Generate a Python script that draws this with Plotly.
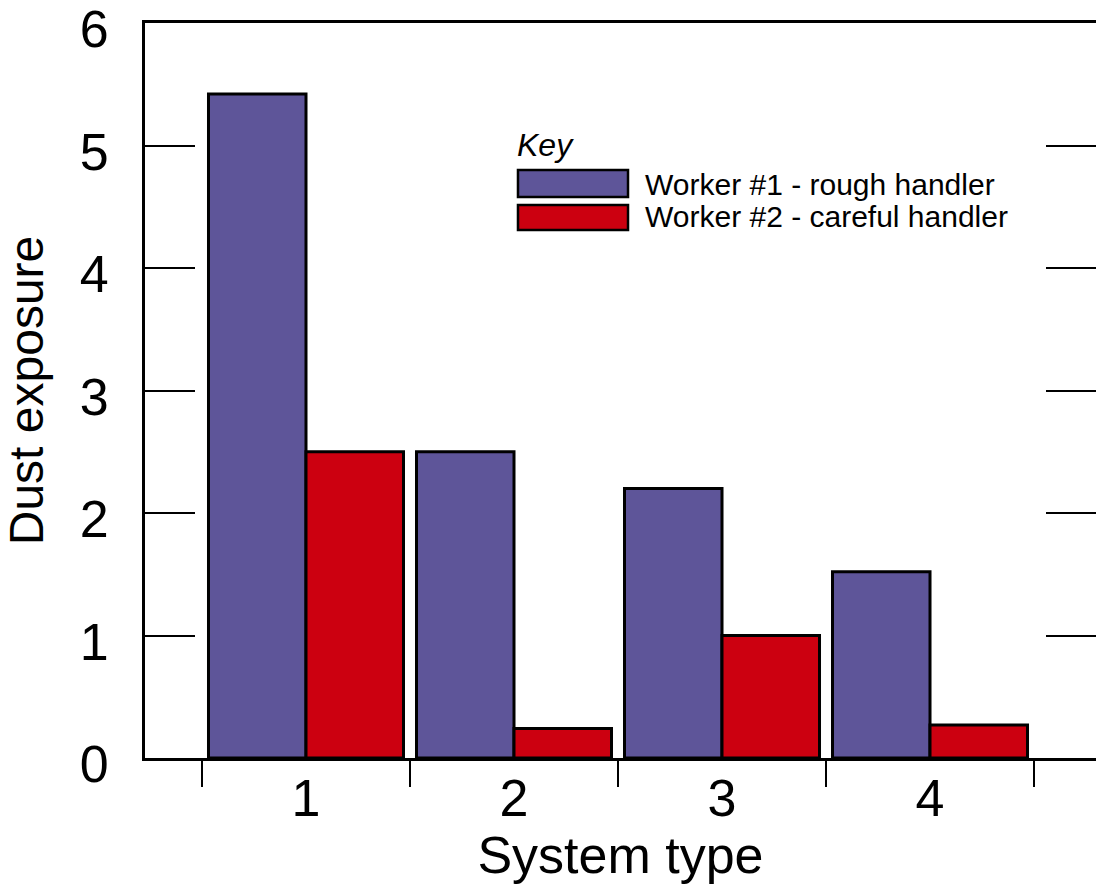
import plotly.graph_objects as go

systems = [1, 2, 3, 4]
worker1 = [5.42, 2.50, 2.20, 1.52]
worker2 = [2.50, 0.24, 1.00, 0.27]
series_names = ["Worker #1 - rough handler", "Worker #2 - careful handler"]
y_ticks = [0, 1, 2, 3, 4, 5, 6]
boundaries = [0.5, 1.5, 2.5, 3.5, 4.5]

PURPLE = "#5E5599"
RED = "#CC0010"
FONT = "Liberation Sans, Arial, sans-serif"
X_RANGE = [0.226, 4.798]
Y_RANGE = [0, 6]

fig = go.Figure()
fig.add_trace(go.Bar(x=systems, y=worker1, name=series_names[0],
                     marker=dict(color=PURPLE, line=dict(color="black", width=3)),
                     showlegend=False))
fig.add_trace(go.Bar(x=systems, y=worker2, name=series_names[1],
                     marker=dict(color=RED, line=dict(color="black", width=3)),
                     showlegend=False))
# invisible trace carrying the boundary ticks (x2) and right-side y ticks (y2)
fig.add_trace(go.Scatter(x=[systems[0]], y=[0], xaxis="x2", yaxis="y2", mode="markers",
                         marker=dict(opacity=0), showlegend=False, hoverinfo="skip"))

fig.update_layout(
    width=1096, height=884,
    margin=dict(l=145, r=0, t=23, b=126, autoexpand=False),
    paper_bgcolor="white", plot_bgcolor="white",
    barmode="group", bargap=0.0625, bargroupgap=0,
    font=dict(family=FONT, color="black"),
    xaxis=dict(
        range=X_RANGE, automargin=False,
        tickmode="array", tickvals=systems, ticktext=[str(s) for s in systems],
        ticks="outside", ticklen=6, tickcolor="rgba(0,0,0,0)",
        tickfont=dict(size=52), ticklabelstandoff=-13,
        showline=True, linecolor="black", linewidth=3, mirror=True,
        showgrid=False, zeroline=False,
        title=dict(text="System type", font=dict(size=52), standoff=27),
    ),
    xaxis2=dict(
        range=X_RANGE, overlaying="x", side="bottom", anchor="y", automargin=False,
        tickmode="array", tickvals=boundaries, ticks="outside",
        ticklen=28, tickwidth=1.5, tickcolor="black",
        showticklabels=False, showline=False, showgrid=False, zeroline=False,
    ),
    yaxis=dict(
        range=Y_RANGE, automargin=False, tickmode="array", tickvals=y_ticks,
        ticks="inside", ticklen=50, tickwidth=1.5, tickcolor="black",
        tickfont=dict(size=52), ticklabelstandoff=23, ticklabelshift=6,
        showline=True, linecolor="black", linewidth=3,
        showgrid=False, zeroline=False,
        title=dict(text="Dust exposure", font=dict(size=48), standoff=21),
    ),
    yaxis2=dict(
        range=Y_RANGE, overlaying="y", side="right", anchor="x", automargin=False,
        tickmode="array", tickvals=y_ticks,
        ticks="inside", ticklen=50, tickwidth=1.5, tickcolor="black",
        showticklabels=False, showline=False, showgrid=False, zeroline=False,
    ),
)

# Key (legend) drawn as shapes and text
key_x0, key_x1 = 0.3922, 0.5079
rows = [(0.7633, 0.8000, PURPLE, 0.7796), (0.7184, 0.7524, RED, 0.7361)]
for (y0, y1, col, ty), name in zip(rows, series_names):
    fig.add_shape(type="rect", xref="paper", yref="paper",
                  x0=key_x0, x1=key_x1, y0=y0, y1=y1,
                  fillcolor=col, line=dict(color="black", width=2.5))
    fig.add_annotation(xref="paper", yref="paper", x=0.5238, y=ty,
                       xanchor="left", yanchor="middle", showarrow=False,
                       text=name, font=dict(size=30, family=FONT, color="black"))
fig.add_annotation(xref="paper", yref="paper", x=0.3890, y=0.8345,
                   xanchor="left", yanchor="middle", showarrow=False,
                   text="<i>Key</i>", font=dict(size=32, family=FONT, color="black"))

fig.write_html("out.html", config={"displayModeBar": False},
               post_script="document.body.style.margin='0';document.body.style.overflow='hidden';")
